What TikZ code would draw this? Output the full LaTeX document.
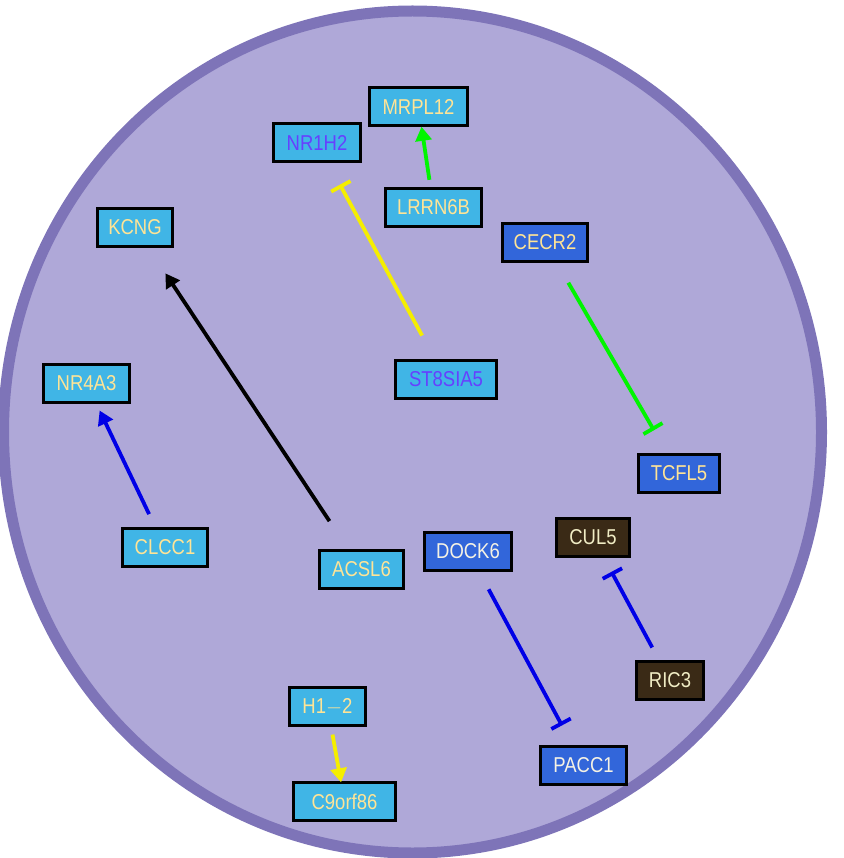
\documentclass[tikz,border=0pt]{standalone}
\usepackage{fontspec}
\setmainfont{Liberation Sans}[FakeStretch=0.86]
\usepackage{tikz}
\usetikzlibrary{arrows.meta}
\definecolor{cellfill}{RGB}{175,168,216}
\definecolor{cellline}{RGB}{126,116,184}
\definecolor{lightgene}{RGB}{64,181,230}
\definecolor{darkgene}{RGB}{50,102,218}
\definecolor{browngene}{RGB}{58,42,22}
\definecolor{paletext}{RGB}{255,228,150}
\definecolor{whitetext}{RGB}{245,242,228}
\definecolor{creamtext}{RGB}{240,236,196}
\definecolor{violettext}{RGB}{102,64,255}
\definecolor{actgreen}{RGB}{0,245,0}
\definecolor{actyellow}{RGB}{245,238,0}
\definecolor{actblue}{RGB}{0,0,230}
\tikzset{>=Triangle,
  gene/.style={draw=black, line width=3pt, inner sep=0pt, minimum height=38pt,
    font=\fontsize{21.5}{24}\selectfont},
  lightbox/.style={gene, fill=lightgene, text=paletext},
  darkbox/.style={gene, fill=darkgene, text=paletext},
  brownbox/.style={gene, fill=browngene, text=creamtext},
  act/.style={line width=3.8pt, -{Triangle[length=14pt,width=16pt]}},
  inh/.style={line width=3.8pt, -{Bar[width=22pt]}}}
\begin{document}
\begin{tikzpicture}[x=1pt, y=-1pt]
  \useasboundingbox (0,0) rectangle (843,858);
  \draw[cellline, fill=cellfill, line width=11pt] (412.5,432) ellipse [x radius=409, y radius=421];

  % genes
  \node[lightbox, minimum width=98pt] (MRPL12) at (418.5,106.5) {MRPL12};
  \node[lightbox, minimum width=87pt, text=violettext] (NR1H2) at (317,142.5) {NR1H2};
  \node[lightbox, minimum width=96pt] (LRRN6B) at (433.5,207.5) {LRRN6B};
  \node[lightbox, minimum width=75pt] (KCNG) at (135,227.5) {KCNG};
  \node[darkbox, minimum width=85pt] (CECR2) at (545,242.5) {CECR2};
  \node[lightbox, minimum width=86pt] (NR4A3) at (86.5,383) {NR4A3};
  \node[lightbox, minimum width=101pt, text=violettext] (ST8SIA5) at (446,379.5) {ST8SIA5};
  \node[darkbox, minimum width=81pt] (TCFL5) at (679,473.5) {TCFL5};
  \node[lightbox, minimum width=85pt] (CLCC1) at (165,547.5) {CLCC1};
  \node[lightbox, minimum width=84pt] (ACSL6) at (361.5,569.5) {ACSL6};
  \node[darkbox, minimum width=87pt, text=whitetext] (DOCK6) at (468,551) {DOCK6};
  \node[brownbox, minimum width=73pt] (CUL5) at (593,537.5) {CUL5};
  \node[brownbox, minimum width=67pt] (RIC3) at (670,680.5) {RIC3};
  \node[lightbox, minimum width=76pt] (H12) at (327.5,706.5) {H1$-$2};
  \node[lightbox, minimum width=102pt] (C9orf86) at (344.5,801.5) {C9orf86};
  \node[darkbox, minimum width=86pt, text=whitetext] (PACC1) at (583.5,765.5) {PACC1};

  % interactions
  \draw[act, actgreen, shorten <=28pt, shorten >=20.5pt] (LRRN6B.center) -- (MRPL12.center);
  \draw[inh, actyellow, shorten <=50pt, shorten >=48pt] (ST8SIA5.center) -- (NR1H2.center);
  \draw[act, black, shorten <=58pt, shorten >=55pt] (ACSL6.center) -- (KCNG.center);
  \draw[inh, actgreen, shorten <=46.5pt, shorten >=50pt] (CECR2.center) -- (TCFL5.center);
  \draw[act, actblue, shorten <=37pt, shorten >=30.5pt] (CLCC1.center) -- (NR4A3.center);
  \draw[inh, actblue, shorten <=43.5pt, shorten >=45.5pt] (DOCK6.center) -- (PACC1.center);
  \draw[inh, actblue, shorten <=37.5pt, shorten >=39pt] (RIC3.center) -- (CUL5.center);
  \draw[act, actyellow, shorten <=28.5pt, shorten >=19.5pt] (H12.center) -- (C9orf86.center);
\end{tikzpicture}
\end{document}
